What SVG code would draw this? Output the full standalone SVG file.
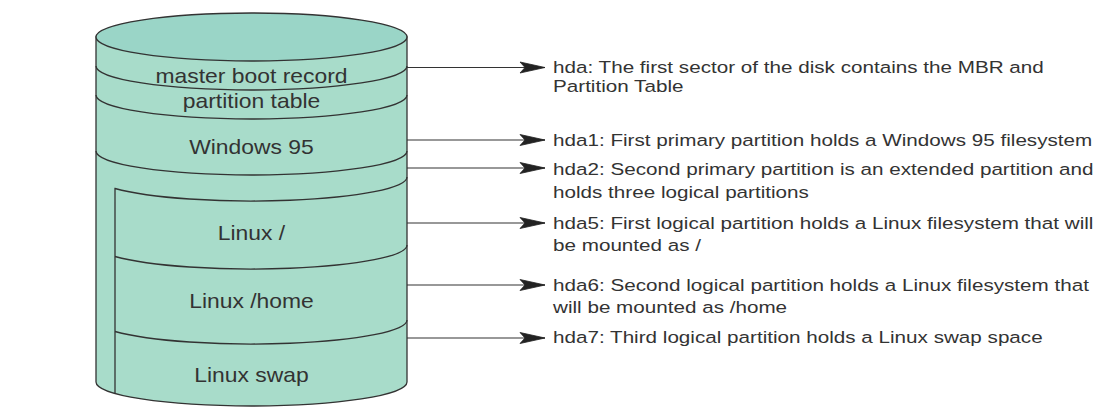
<svg xmlns="http://www.w3.org/2000/svg" width="1112" height="417" viewBox="0 0 1112 417">
<style>
.body{fill:#a8dcca;stroke:#333;stroke-width:1.3}
.top{fill:#9ad5c7;stroke:#333;stroke-width:1.3}
.band{fill:none;stroke:#333;stroke-width:1.3}
.lbl{font-family:"Liberation Sans",Arial,sans-serif;font-size:20px;fill:#333;text-anchor:middle}
.note{font-family:"Liberation Sans",Arial,sans-serif;font-size:17px;fill:#333}
.conn{stroke:#333;stroke-width:1.1;fill:none;marker-end:url(#arr)}
</style>
<defs>
<marker id="arr" markerUnits="userSpaceOnUse" markerWidth="28" markerHeight="14" refX="26" refY="7" orient="auto">
<path d="M1,1.5 L26,7 L1,12.5 L6,7 Z" fill="#222" stroke="#222" stroke-width="0.8" stroke-linejoin="round"/>
</marker>
</defs>
<rect width="1112" height="417" fill="#fff"/>
<g id="disk">
<path class="body" d="M96,37 L96,382 A155.5,24 0 0 0 407,382 L407,37 Z"/>
<ellipse class="top" cx="251.5" cy="37" rx="155.5" ry="24"/>
<path class="band" d="M96,66 A155.5,24 0 0 0 407,66"/>
<path class="band" d="M96,95 A155.5,24 0 0 0 407,95"/>
<path class="band" d="M96,151 A155.5,24 0 0 0 407,151"/>
<path class="band" d="M115,393.5 L115,188.5 A155.5,24 0 0 0 407,177"/>
<path class="band" d="M115,256.5 A155.5,24 0 0 0 407,245"/>
<path class="band" d="M115,331.5 A155.5,24 0 0 0 407,320"/>
</g>
<g id="mbr"><text class="lbl" transform="translate(251.5 82.5) scale(1.145 1)">master boot record</text></g>
<g id="ptable"><text class="lbl" transform="translate(251.5 108) scale(1.145 1)">partition table</text></g>
<g id="win95"><text class="lbl" transform="translate(251.5 154) scale(1.145 1)">Windows 95</text></g>
<g id="linuxroot"><text class="lbl" transform="translate(251.5 240) scale(1.145 1)">Linux /</text></g>
<g id="linuxhome"><text class="lbl" transform="translate(251.5 308) scale(1.145 1)">Linux /home</text></g>
<g id="linuxswap"><text class="lbl" transform="translate(251.5 381.5) scale(1.145 1)">Linux swap</text></g>
<g id="connectors">
<line class="conn" x1="407" y1="67.5" x2="545" y2="67.5"/>
<line class="conn" x1="407" y1="140" x2="545" y2="140"/>
<line class="conn" x1="407" y1="168" x2="545" y2="168"/>
<line class="conn" x1="407" y1="223" x2="545" y2="223"/>
<line class="conn" x1="407" y1="285" x2="545" y2="285"/>
<line class="conn" x1="407" y1="338" x2="545" y2="338"/>
</g>
<g transform="translate(553 0) scale(1.215 1)">
<g id="hda"><text class="note" x="0" y="73.5">hda: The first sector of the disk contains the MBR and</text><text class="note" x="0" y="92">Partition Table</text></g>
<g id="hda1"><text class="note" x="0" y="146.5">hda1: First primary partition holds a Windows 95 filesystem</text></g>
<g id="hda2"><text class="note" x="0" y="175">hda2: Second primary partition is an extended partition and</text><text class="note" x="0" y="198">holds three logical partitions</text></g>
<g id="hda5"><text class="note" x="0" y="229">hda5: First logical partition holds a Linux filesystem that will</text><text class="note" x="0" y="251.5">be mounted as /</text></g>
<g id="hda6"><text class="note" x="0" y="291">hda6: Second logical partition holds a Linux filesystem that</text><text class="note" x="0" y="313.5">will be mounted as /home</text></g>
<g id="hda7"><text class="note" x="0" y="343">hda7: Third logical partition holds a Linux swap space</text></g>
</g>
</svg>
